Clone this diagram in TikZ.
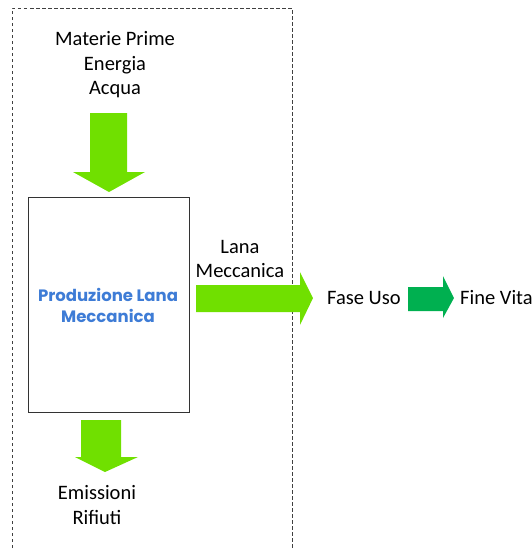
\documentclass[tikz,border=0pt]{standalone}
\usepackage{fontspec}
\setmainfont{Carlito}
\newfontfamily\titlefont{Poppins}
\begin{document}
\begin{tikzpicture}[x=1pt,y=-1pt,
  lbl/.style={font=\fontsize{20.5}{24.5}\selectfont, align=center, inner sep=0pt},
  procbox/.style={draw=black!80, line width=0.9pt, fill=white, inner sep=0pt},
  flowlight/.style={fill={rgb,255:red,112;green,224;blue,0}},
  flowdark/.style={fill={rgb,255:red,0;green,176;blue,80}}]
\useasboundingbox (0,0) rectangle (532,550);
% system boundary
\draw[black!75, line width=0.7pt, dash pattern=on 3.5pt off 2.5pt] (12,560) -- (12,8) -- (292,8) -- (292,560);
% inputs
\node[lbl] (inputs) at (115,65) {Materie Prime\\Energia\\Acqua};
% process box
\node[procbox, minimum width=161pt, minimum height=215pt, anchor=north west] (proc) at (28,197) {};
\node[font=\titlefont\bfseries\fontsize{16.5}{21}\selectfont, text={rgb,255:red,62;green,124;blue,214}, align=center, inner sep=0pt] (ptitle) at (108,305) {Produzione Lana\\Meccanica};
% outputs
\node[lbl] (outputs) at (97,505) {Emissioni\\Rifiuti};
\node[lbl] (product) at (240,259) {Lana\\Meccanica};
\node[lbl, anchor=west] (use) at (327,298) {Fase Uso};
\node[lbl, anchor=west] (eol) at (460,298) {Fine Vita};
% input arrow
\fill[flowlight] (90,113) -- (127,113) -- (127,172) -- (145,172) -- (109,192) -- (73,172) -- (90,172) -- cycle;
% output arrow
\fill[flowlight] (81,420) -- (121,420) -- (121,457) -- (138,457) -- (105,472) -- (75,457) -- (81,457) -- cycle;
% product arrow
\fill[flowlight] (196,285) -- (300,285) -- (300,272) -- (313,298) -- (300,325) -- (300,312) -- (196,312) -- cycle;
% use to end of life
\fill[flowdark] (408,287) -- (443,287) -- (443,276) -- (454,298) -- (443,318) -- (443,311) -- (408,311) -- cycle;
\end{tikzpicture}
\end{document}
